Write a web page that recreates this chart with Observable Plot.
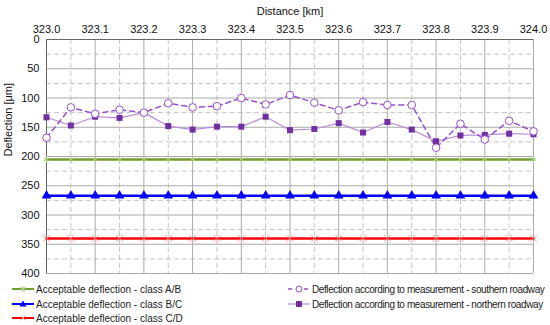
<!DOCTYPE html>
<html>
<head>
<meta charset="utf-8">
<script src="https://cdn.jsdelivr.net/npm/d3@7"></script>
<script src="https://cdn.jsdelivr.net/npm/@observablehq/plot@0.6"></script>
<style>
  body { margin: 0; background: #fff; font-family: "Liberation Sans", Arial, sans-serif; }
  #wrap { position: relative; width: 550px; height: 325px; overflow: hidden; }
  .leg { position: absolute; font-size: 10px; color: #222; white-space: nowrap; display: flex; align-items: center; height: 14px; }
  .leg.right span { letter-spacing: -0.4px; }
  .leg svg { margin-right: 2px; }
</style>
</head>
<body>
<div id="wrap"></div>
<script>
// ---- data ----
const distance = [323.00, 323.05, 323.10, 323.15, 323.20, 323.25, 323.30, 323.35, 323.40, 323.45, 323.50,
                  323.55, 323.60, 323.65, 323.70, 323.75, 323.80, 323.85, 323.90, 323.95, 324.00];
const southern = [168, 116, 127, 120, 125, 109, 116, 114, 100, 111, 95, 108, 121, 107, 112, 112, 185, 144, 171, 139, 157];
const northern = [133, 147, 132, 134, 125, 148, 154, 149, 149, 132, 155, 153, 143, 159, 141, 154, 174, 164, 163, 161, 162];
const limitAB = 205;
const limitBC = 267;
const limitCD = 340;
const xTicks = [323.0, 323.1, 323.2, 323.3, 323.4, 323.5, 323.6, 323.7, 323.8, 323.9, 324.0];
const xMinorTicks = [323.05, 323.15, 323.25, 323.35, 323.45, 323.55, 323.65, 323.75, 323.85, 323.95];
const yTicks = [0, 50, 100, 150, 200, 250, 300, 350, 400];
const yMinorTicks = [25, 75, 125, 175, 225, 275, 325, 375];
const legendLabels = [
  "Acceptable deflection - class A/B",
  "Acceptable deflection - class B/C",
  "Acceptable deflection - class C/D",
  "Deflection according to measurement - southern roadway",
  "Deflection according to measurement - northern roadway"
];

const rows = distance.map((d, i) => ({distance: d, southern: southern[i], northern: northern[i], ab: limitAB, bc: limitBC, cd: limitCD}));

const C = {
  abLine: "#6f9e2e", abMark: "#a9d07a",
  bc: "#0000ff",
  cdLine: "#ff0000", cdMark: "#ff9c9c",
  south: "#9a4fcc",
  northLine: "#b98ad9", northMark: "#7030a0"
};

const chart = Plot.plot({
  width: 550,
  height: 280,
  marginTop: 39,
  marginBottom: 7,
  marginLeft: 46,
  marginRight: 17,
  style: {fontFamily: "Liberation Sans, Arial, sans-serif", fontSize: "11px", color: "#111", background: "#fff"},
  x: {domain: [323, 324], axis: null},
  y: {domain: [0, 400], reverse: true, axis: null},
  marks: [
    Plot.gridY({ticks: yMinorTicks, stroke: "#c4c4c4", strokeOpacity: 1, strokeDasharray: "5,3"}),
    Plot.gridX({ticks: xMinorTicks, stroke: "#c4c4c4", strokeOpacity: 1, strokeDasharray: "5,3"}),
    Plot.gridY({ticks: yTicks, stroke: "#ababab", strokeOpacity: 1}),
    Plot.gridX({ticks: xTicks, stroke: "#ababab", strokeOpacity: 1}),
    Plot.ruleY([0], {stroke: "#666", strokeWidth: 1}),
    Plot.ruleX([323], {stroke: "#666", strokeWidth: 1}),
    Plot.axisX({anchor: "top", ticks: xTicks, tickFormat: d => d.toFixed(1), tickSize: 0, tickPadding: 7, label: null}),
    Plot.axisY({anchor: "left", ticks: yTicks, tickSize: 0, tickPadding: 7, label: null}),
    Plot.text(["Distance [km]"], {frameAnchor: "top", dy: -32, fontSize: 11}),
    Plot.text(["Deflection [\u03bcm]"], {frameAnchor: "left", dx: -38, rotate: -90, fontSize: 11}),
    // limits
    Plot.line(rows, {x: "distance", y: "ab", stroke: C.abLine, strokeWidth: 2.5}),
    Plot.dot(rows, {x: "distance", y: "ab", symbol: "asterisk", r: 3, stroke: C.abMark, strokeWidth: 1}),
    Plot.line(rows, {x: "distance", y: "bc", stroke: C.bc, strokeWidth: 2.5}),
    Plot.dot(rows, {x: "distance", y: "bc", symbol: "triangle", r: 3.6, fill: C.bc, stroke: "none"}),
    Plot.line(rows, {x: "distance", y: "cd", stroke: C.cdLine, strokeWidth: 2.5}),
    Plot.dot(rows, {x: "distance", y: "cd", symbol: "times", r: 3.2, stroke: C.cdMark, strokeWidth: 1}),
    // measurements
    Plot.line(rows, {x: "distance", y: "northern", stroke: C.northLine, strokeWidth: 1.2}),
    Plot.line(rows, {x: "distance", y: "southern", stroke: C.south, strokeWidth: 1.5, strokeDasharray: "5,4"}),
    Plot.dot(rows, {x: "distance", y: "northern", symbol: "square", r: 3.4, fill: C.northMark, stroke: "none"}),
    Plot.dot(rows, {x: "distance", y: "southern", symbol: "circle", r: 3.8, fill: "#fff", stroke: C.south, strokeWidth: 1})
  ]
});

const wrap = document.getElementById("wrap");
chart.style.position = "absolute";
chart.style.left = "0px";
chart.style.top = "0px";
wrap.appendChild(chart);

// ---- legend ----
function sample(kind) {
  const w = 22, h = 12, m = 6;
  let s = `<svg width="${w}" height="${h}" viewBox="0 0 ${w} ${h}">`;
  if (kind === 0) {
    s += `<line x1="0" y1="${m}" x2="${w}" y2="${m}" stroke="${C.abLine}" stroke-width="2"/>`;
    s += `<path d="M${w/2-3},${m}h6M${w/2},${m-3}v6M${w/2-2},${m-2}l4,4M${w/2-2},${m+2}l4,-4" stroke="${C.abMark}" stroke-width="1"/>`;
  } else if (kind === 1) {
    s += `<line x1="0" y1="${m}" x2="${w}" y2="${m}" stroke="${C.bc}" stroke-width="2"/>`;
    s += `<path d="M${w/2},${m-3.5}L${w/2+3.5},${m+2.5}L${w/2-3.5},${m+2.5}Z" fill="${C.bc}"/>`;
  } else if (kind === 2) {
    s += `<line x1="0" y1="${m}" x2="${w}" y2="${m}" stroke="${C.cdLine}" stroke-width="2"/>`;
    s += `<path d="M${w/2-2.5},${m-2.5}l5,5M${w/2-2.5},${m+2.5}l5,-5" stroke="${C.cdMark}" stroke-width="1"/>`;
  } else if (kind === 3) {
    s += `<line x1="0" y1="${m}" x2="${w}" y2="${m}" stroke="${C.south}" stroke-width="1.5" stroke-dasharray="4,4"/>`;
    s += `<circle cx="${w/2}" cy="${m}" r="3" fill="#fff" stroke="${C.south}" stroke-width="1"/>`;
  } else {
    s += `<line x1="0" y1="${m}" x2="${w}" y2="${m}" stroke="${C.northLine}" stroke-width="1.2"/>`;
    s += `<rect x="${w/2-3}" y="${m-3}" width="6" height="6" fill="${C.northMark}"/>`;
  }
  return s + `</svg>`;
}
const legendPos = [[12, 282], [12, 297], [12, 311], [288, 282], [288, 297]];
legendLabels.forEach((t, i) => {
  const d = document.createElement("div");
  d.className = "leg" + (i >= 3 ? " right" : "");
  d.style.left = legendPos[i][0] + "px";
  d.style.top = legendPos[i][1] + "px";
  d.innerHTML = sample(i) + `<span>${t}</span>`;
  wrap.appendChild(d);
});
</script>
</body>
</html>
